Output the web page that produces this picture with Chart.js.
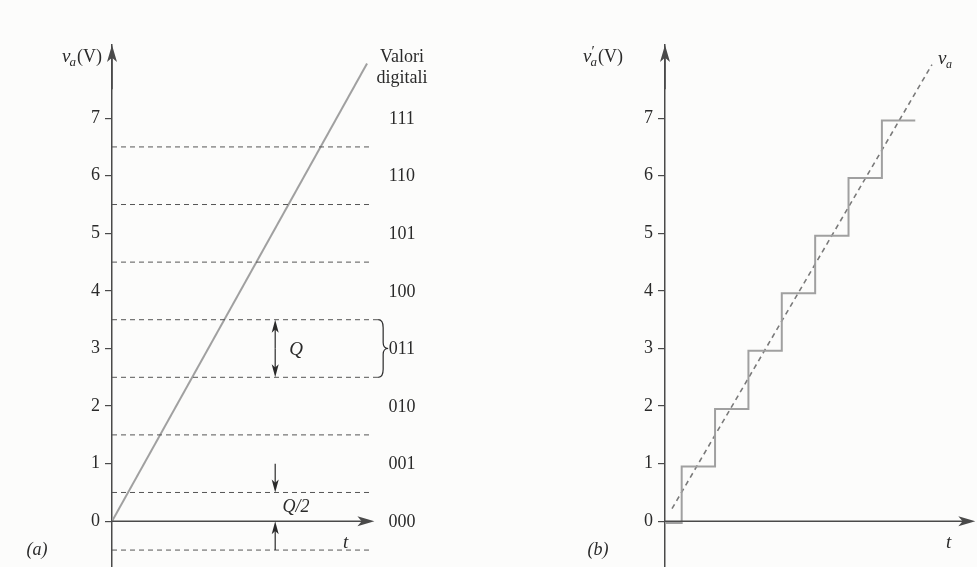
<!DOCTYPE html>
<html>
<head>
<meta charset="utf-8">
<script src="https://cdn.jsdelivr.net/npm/chart.js@4.4.1/dist/chart.umd.min.js"></script>
<style>
  html, body { margin: 0; padding: 0; background: #fcfcfb; }
  #wrap { position: relative; width: 977px; height: 567px; overflow: hidden; }
  canvas { position: absolute; top: 0; }
  #chartA { left: 0; }
  #chartB { left: 560px; }
</style>
</head>
<body>
<div id="wrap">
  <canvas id="chartA" width="480" height="582"></canvas>
  <canvas id="chartB" width="417" height="582"></canvas>
</div>
<script>
'use strict';

// --- data ---
const yTicks = [0, 1, 2, 3, 4, 5, 6, 7];
const thresholds = [-0.5, 0.5, 1.5, 2.5, 3.5, 4.5, 5.5, 6.5];
const codes = ['000', '001', '010', '011', '100', '101', '110', '111'];
const rampT = [0, 7.97];
const rampV = [0, 7.95];
const stepT = [0, 0.5, 1.5, 2.5, 3.5, 4.5, 5.5, 6.5, 7.5];
const stepV = [-0.03, 0.95, 1.95, 2.96, 3.96, 4.96, 5.96, 6.96, 6.96];
const idealT = [0.21, 8.0];
const idealV = [0.22, 7.93];

const AXIS = '#4a4a4a';
const INK = '#2a2a2a';
const SERIF = '"Liberation Serif", "DejaVu Serif", serif';

const pts = (xs, ys) => xs.map((x, i) => ({ x, y: ys[i] }));

function arrow(ctx, x1, y1, x2, y2, head, half) {
  const a = Math.atan2(y2 - y1, x2 - x1);
  ctx.beginPath();
  ctx.moveTo(x1, y1);
  ctx.lineTo(x2 - Math.cos(a) * head * 0.6, y2 - Math.sin(a) * head * 0.6);
  ctx.stroke();
  ctx.beginPath();
  ctx.moveTo(x2, y2);
  ctx.lineTo(x2 - Math.cos(a) * head - Math.sin(a) * half, y2 - Math.sin(a) * head + Math.cos(a) * half);
  ctx.lineTo(x2 - Math.cos(a) * head * 0.75, y2 - Math.sin(a) * head * 0.75);
  ctx.lineTo(x2 - Math.cos(a) * head + Math.sin(a) * half, y2 - Math.sin(a) * head - Math.cos(a) * half);
  ctx.closePath();
  ctx.fill();
}

function text(ctx, str, x, y, style, size, align) {
  ctx.font = `${style} ${size}px ${SERIF}`;
  ctx.textAlign = align || 'center';
  ctx.textBaseline = 'middle';
  ctx.fillText(str, x, y);
}

// v_a(V) style label with optional prime
function vLabel(ctx, x, y, prime) {
  ctx.textBaseline = 'alphabetic';
  ctx.textAlign = 'left';
  ctx.font = `italic 19px ${SERIF}`;
  ctx.fillText('v', x, y);
  let w = ctx.measureText('v').width;
  if (prime) {
    ctx.font = `15px ${SERIF}`;
    ctx.fillText('′', x + w, y - 6);
  }
  ctx.font = `italic 13px ${SERIF}`;
  ctx.fillText('a', x + w - 1, y + 4);
  w += ctx.measureText('a').width;
  ctx.font = `18px ${SERIF}`;
  ctx.fillText('(V)', x + w, y);
}

function baseOptions(xMax, yAxisWidth) {
  return {
    responsive: false,
    animation: false,
    devicePixelRatio: 1,
    layout: { padding: { top: 45, right: 0, bottom: 0, left: 0 } },
    plugins: { legend: { display: false }, tooltip: { enabled: false } },
    elements: { point: { radius: 0 }, line: { tension: 0 } },
    scales: {
      x: { type: 'linear', display: false, min: 0, max: xMax },
      y: {
        type: 'linear',
        min: -0.78,
        max: 8.27,
        afterFit: s => { s.width = yAxisWidth; },
        afterBuildTicks: s => { s.ticks = yTicks.map(v => ({ value: v })); },
        border: { display: true, color: AXIS, width: 1.5 },
        grid: { drawOnChartArea: false, drawTicks: true, tickLength: 7, color: AXIS, lineWidth: 1.2 },
        ticks: { color: INK, padding: 5, font: { family: SERIF, size: 18 } },
      },
    },
  };
}

function axisArrows(chart, xEnd) {
  const { ctx, chartArea, scales: { x, y } } = chart;
  ctx.save();
  ctx.strokeStyle = AXIS;
  ctx.fillStyle = AXIS;
  ctx.lineWidth = 1.5;
  arrow(ctx, chartArea.left, y.getPixelForValue(7.5), chartArea.left, chartArea.top, 17, 5);
  arrow(ctx, chartArea.left, y.getPixelForValue(0), x.getPixelForValue(xEnd), y.getPixelForValue(0), 17, 5);
  ctx.restore();
}

// --- panel (a) ---
const datasetsA = thresholds.map(v => ({
  data: pts([0, (v === 2.5 || v === 3.5) ? 8.38 : 8.12], [v, v]),
  borderColor: '#555',
  borderWidth: 1,
  borderDash: [5, 4],
}));
datasetsA.push({ data: pts(rampT, rampV), borderColor: '#a0a0a0', borderWidth: 2 });

const annotateA = {
  id: 'annotateA',
  afterDraw(chart) {
    const { ctx, scales: { x, y } } = chart;
    axisArrows(chart, 8.2);
    ctx.save();
    ctx.fillStyle = INK;
    ctx.strokeStyle = INK;
    ctx.lineWidth = 1.2;
    const cx = x.getPixelForValue(9.06);
    codes.forEach((c, i) => text(ctx, c, cx, y.getPixelForValue(i) + 1, '', 18));
    text(ctx, 'Valori', cx, 57, '', 18);
    text(ctx, 'digitali', cx, 78, '', 18);
    vLabel(ctx, 62, 62, false);
    text(ctx, '(a)', 37, 550, 'italic', 18);
    text(ctx, 't', x.getPixelForValue(7.3), y.getPixelForValue(-0.37), 'italic', 19);

    // Q double arrow
    const qx = x.getPixelForValue(5.1);
    const y35 = y.getPixelForValue(3.5), y25 = y.getPixelForValue(2.5);
    const mid = (y35 + y25) / 2;
    arrow(ctx, qx, mid, qx, y35, 13, 3.5);
    arrow(ctx, qx, mid, qx, y25, 13, 3.5);
    text(ctx, 'Q', x.getPixelForValue(5.75), mid + 1, 'italic', 19);

    // Q/2 arrows
    arrow(ctx, qx, y.getPixelForValue(1.0), qx, y.getPixelForValue(0.5), 13, 3.5);
    arrow(ctx, qx, y.getPixelForValue(-0.5), qx, y.getPixelForValue(0), 13, 3.5);
    text(ctx, 'Q/2', x.getPixelForValue(5.75), y.getPixelForValue(0.24), 'italic', 18);

    // brace
    const bx = x.getPixelForValue(8.38);
    ctx.beginPath();
    ctx.moveTo(bx - 2, y35);
    ctx.quadraticCurveTo(bx + 3, y35, bx + 3, y35 + 8);
    ctx.lineTo(bx + 3, mid - 6);
    ctx.quadraticCurveTo(bx + 3, mid, bx + 8, mid);
    ctx.quadraticCurveTo(bx + 3, mid, bx + 3, mid + 6);
    ctx.lineTo(bx + 3, y25 - 8);
    ctx.quadraticCurveTo(bx + 3, y25, bx - 2, y25);
    ctx.stroke();
    ctx.restore();
  },
};

new Chart(document.getElementById('chartA'), {
  type: 'line',
  data: { datasets: datasetsA },
  options: baseOptions(11.5, 112),
  plugins: [annotateA],
});

// --- panel (b) ---
const annotateB = {
  id: 'annotateB',
  afterDraw(chart) {
    const { ctx, scales: { x, y } } = chart;
    axisArrows(chart, 9.3);
    ctx.save();
    ctx.fillStyle = INK;
    vLabel(ctx, 583 - 560, 62, true);
    text(ctx, '(b)', 598 - 560, 550, 'italic', 18);
    text(ctx, 't', x.getPixelForValue(8.5), y.getPixelForValue(-0.37), 'italic', 19);
    ctx.textBaseline = 'alphabetic';
    ctx.textAlign = 'left';
    ctx.font = `italic 19px ${SERIF}`;
    ctx.fillText('v', x.getPixelForValue(8.18), 64);
    ctx.font = `italic 12px ${SERIF}`;
    ctx.fillText('a', x.getPixelForValue(8.18) + 8, 68);
    ctx.restore();
  },
};

new Chart(document.getElementById('chartB'), {
  type: 'line',
  data: {
    datasets: [
      { data: pts(stepT, stepV), stepped: 'before', borderColor: '#a0a0a0', borderWidth: 2 },
      { data: pts(idealT, idealV), borderColor: '#7a7a7a', borderWidth: 1.6, borderDash: [5, 4] },
    ],
  },
  options: baseOptions(9.35, 105),
  plugins: [annotateB],
});
</script>
</body>
</html>
